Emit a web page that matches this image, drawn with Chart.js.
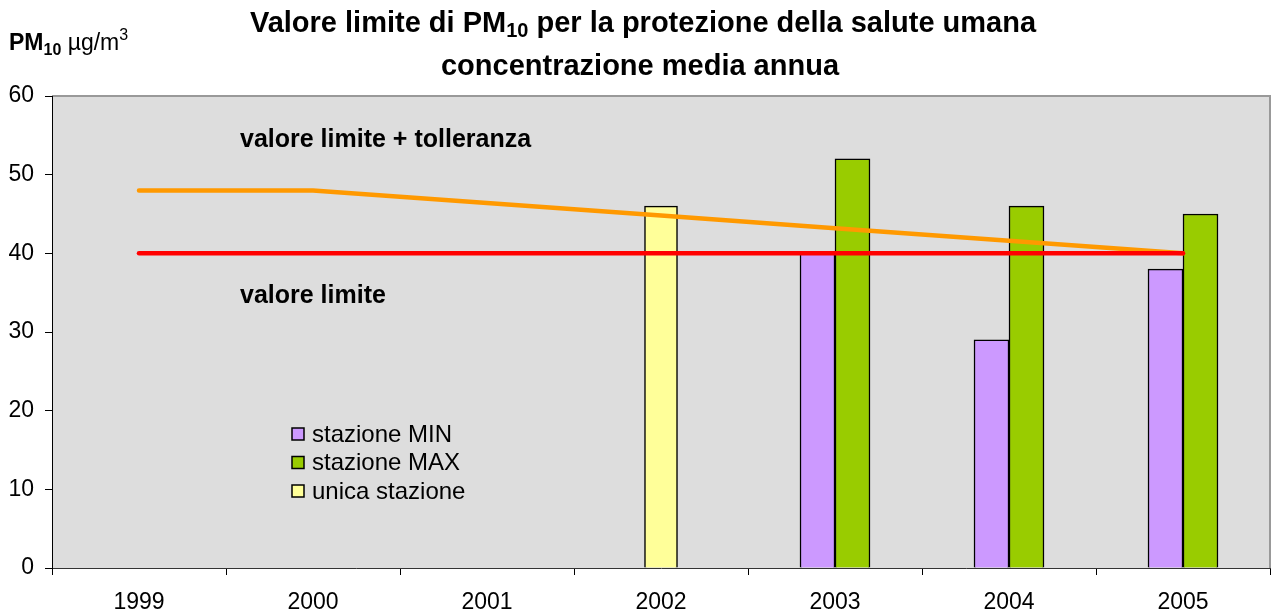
<!DOCTYPE html>
<html>
<head>
<meta charset="utf-8">
<script src="https://cdn.jsdelivr.net/npm/chart.js@4.4.0/dist/chart.umd.min.js"></script>
<style>
  body { margin: 0; background: #fff; }
  #wrap { width: 1271px; height: 616px; position: relative; }
</style>
</head>
<body>
<div id="wrap"><canvas id="pm10"></canvas></div>
<script>
const anni = ['1999', '2000', '2001', '2002', '2003', '2004', '2005'];
const stazioneMin = [null, null, null, null, 40, 29, 38];
const stazioneMax = [null, null, null, null, 52, 46, 45];
const unicaStazione = [null, null, null, 46, null, null, null];
const limiteTolleranza = [48, 48, 46.4, 44.8, 43.2, 41.6, 40];
const valoreLimite = [40, 40, 40, 40, 40, 40, 40];
const yTicks = [0, 10, 20, 30, 40, 50, 60];

const FONT = "'Liberation Sans', Arial, sans-serif";
Chart.defaults.font.family = FONT;
Chart.defaults.color = '#000';

// draws a line of text made of runs (for sub/superscripts)
function scriviRiga(ctx, parti, x, y, allinea) {
    let w = 0;
    parti.forEach(p => { ctx.font = p.font; w += ctx.measureText(p.testo).width; });
    let cx = allinea === 'center' ? x - w / 2 : x;
    ctx.textAlign = 'left';
    ctx.textBaseline = 'alphabetic';
    parti.forEach(p => {
        ctx.font = p.font;
        ctx.fillText(p.testo, cx, y + (p.dy || 0));
        cx += ctx.measureText(p.testo).width;
    });
}

const sfondoArea = {
    id: 'sfondoArea',
    beforeDraw(chart) {
        const { ctx, chartArea: a } = chart;
        ctx.save();
        ctx.fillStyle = '#dddddd';
        ctx.fillRect(a.left, a.top, a.right - a.left, a.bottom - a.top);
        ctx.strokeStyle = '#999999';
        ctx.lineWidth = 2;
        ctx.beginPath();
        ctx.moveTo(a.left, a.top);
        ctx.lineTo(a.right, a.top);
        ctx.lineTo(a.right, a.bottom);
        ctx.stroke();
        ctx.restore();
    }
};

const testi = {
    id: 'testi',
    afterDraw(chart) {
        const ctx = chart.ctx;
        ctx.save();
        ctx.fillStyle = '#000';

        // title
        const tb = 'bold 29px ' + FONT;
        const ts = 'bold 20px ' + FONT;
        scriviRiga(ctx, [
            { testo: 'Valore limite di PM', font: tb },
            { testo: '10', font: ts, dy: 5 },
            { testo: ' per la protezione della salute umana', font: tb }
        ], 643, 32, 'center');
        scriviRiga(ctx, [{ testo: 'concentrazione media annua', font: tb }], 640, 75, 'center');

        // y axis title
        scriviRiga(ctx, [
            { testo: 'PM', font: 'bold 23px ' + FONT },
            { testo: '10', font: 'bold 16px ' + FONT, dy: 5 },
            { testo: ' \u00b5g/m', font: '23px ' + FONT },
            { testo: '3', font: '16px ' + FONT, dy: -10 }
        ], 9, 50, 'left');

        // line labels
        ctx.font = 'bold 25px ' + FONT;
        ctx.fillText('valore limite + tolleranza', 240, 147);
        ctx.fillText('valore limite', 240, 303);

        // legend
        const voci = chart.data.datasets.filter(d => d.type !== 'line');
        ctx.font = '24px ' + FONT;
        ctx.textBaseline = 'middle';
        voci.forEach((d, i) => {
            const cy = 434 + i * 28.5;
            ctx.fillStyle = d.backgroundColor;
            ctx.fillRect(292, cy - 6, 12, 12);
            ctx.strokeStyle = '#000';
            ctx.lineWidth = 1.5;
            ctx.strokeRect(292, cy - 6, 12, 12);
            ctx.fillStyle = '#000';
            ctx.fillText(d.label, 312, cy + 1);
        });
        ctx.restore();
    }
};

new Chart(document.getElementById('pm10'), {
    type: 'bar',
    data: {
        labels: anni,
        datasets: [
            {
                type: 'line',
                label: 'valore limite',
                data: valoreLimite,
                borderColor: '#ff0000',
                borderWidth: 4.5,
                borderCapStyle: 'round',
                pointRadius: 0,
                order: 0
            },
            {
                type: 'line',
                label: 'valore limite + tolleranza',
                data: limiteTolleranza,
                borderColor: '#ff9900',
                borderWidth: 4.5,
                borderCapStyle: 'round',
                pointRadius: 0,
                order: 1
            },
            {
                label: 'stazione MIN',
                data: stazioneMin,
                backgroundColor: '#cc99ff',
                borderColor: '#000',
                borderWidth: 1.5,
                barThickness: 35,
                skipNull: true,
                order: 2
            },
            {
                label: 'stazione MAX',
                data: stazioneMax,
                backgroundColor: '#99cc00',
                borderColor: '#000',
                borderWidth: 1.5,
                barThickness: 35,
                skipNull: true,
                order: 2
            },
            {
                label: 'unica stazione',
                data: unicaStazione,
                backgroundColor: '#ffff99',
                borderColor: '#000',
                borderWidth: 1.5,
                barThickness: 33,
                skipNull: true,
                order: 2
            }
        ]
    },
    options: {
        responsive: true,
        maintainAspectRatio: false,
        animation: false,
        layout: { padding: { top: 96, right: 1, left: 0, bottom: 0 } },
        plugins: {
            legend: { display: false },
            tooltip: { enabled: false }
        },
        scales: {
            x: {
                offset: true,
                afterFit: s => { s.height = 48; },
                ticks: { color: '#000', font: { size: 23 }, padding: 14 },
                grid: { offset: true, drawOnChartArea: false, tickLength: 7, color: '#000' },
                border: { color: '#333', width: 1 }
            },
            y: {
                min: 0,
                max: 60,
                afterBuildTicks: s => { s.ticks = yTicks.map(v => ({ value: v })); },
                afterFit: s => { s.width = 52; },
                ticks: { color: '#000', font: { size: 23 }, padding: 11 },
                grid: { drawOnChartArea: false, tickLength: 7, color: '#000' },
                border: { color: '#000', width: 1 }
            }
        }
    },
    plugins: [sfondoArea, testi]
});
</script>
</body>
</html>
